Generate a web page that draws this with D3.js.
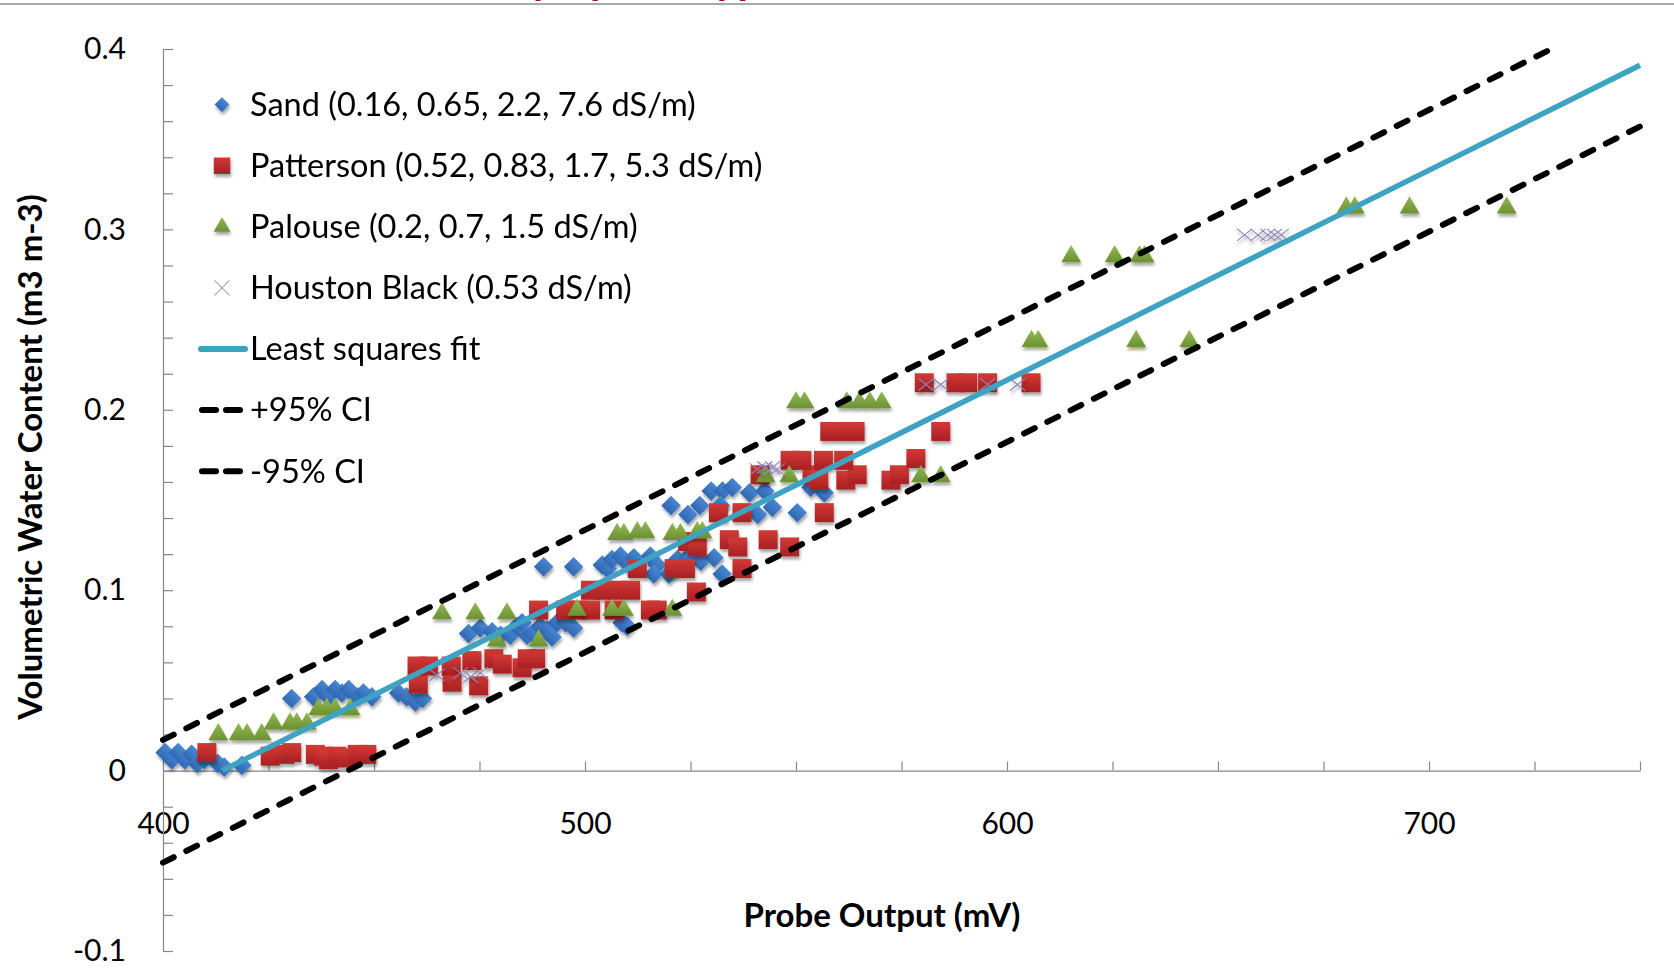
<!DOCTYPE html>
<html lang="en">
<head>
<meta charset="UTF-8" />
<title>Probe output vs volumetric water content</title>
<script src="https://cdn.jsdelivr.net/npm/d3@7"></script>
<style>
  body { margin: 0; background: #fff; overflow: hidden; }
  svg { display: block; font-family: Lato, "Open Sans", sans-serif; }
  .axis path, .axis line { stroke: #868686; stroke-width: 1.2px; }
  .axis text { font-size: 30px; fill: #000; font-family: Lato, "Open Sans", sans-serif; }
  .legend text { font-size: 32.5px; fill: #000; }
  .title { font-size: 33px; font-weight: bold; fill: #000; }
</style>
</head>
<body>
<script>
// ---- data: [probe output mV, VWC m3/m3] ----
const sand = [
  [400.5, 0.010], [402.1, 0.006], [403.6, 0.010], [405.2, 0.006], [406.8, 0.009],
  [408.1, 0.004], [409.8, 0.006], [413, 0.004], [414.5, 0.002], [418.7, 0.003],
  [430.5, 0.040],
  [435.7, 0.041], [437.7, 0.045], [439.2, 0.041], [440.8, 0.045], [442.4, 0.043],
  [444, 0.045], [446, 0.041], [447.5, 0.043], [449.5, 0.041],
  [455.8, 0.043], [457.7, 0.041], [459.8, 0.038], [461.5, 0.040],
  [472.4, 0.076], [475.2, 0.079], [478, 0.077], [480, 0.075], [482.3, 0.075],
  [483.9, 0.080], [485.1, 0.082], [486.3, 0.075], [487.5, 0.076], [489.4, 0.080],
  [491, 0.078], [492.2, 0.074], [493.4, 0.082], [495.4, 0.082], [497.3, 0.079],
  [508.8, 0.082], [510, 0.080],
  [490.2, 0.113], [497.3, 0.113], [504.1, 0.114], [505.3, 0.112], [506.4, 0.117],
  [508.4, 0.119], [510, 0.115], [511.6, 0.118], [515.5, 0.119], [517.1, 0.114],
  [516.3, 0.109], [519.9, 0.109], [521.9, 0.117], [524.3, 0.118], [527.4, 0.116],
  [530.6, 0.118], [532.5, 0.109],
  [520.4, 0.147], [524.4, 0.142], [527.2, 0.147], [529.9, 0.155], [532.6, 0.155],
  [534.9, 0.157], [539, 0.154], [542.6, 0.155], [544.4, 0.146], [550.3, 0.143],
  [553.5, 0.157], [556.7, 0.154], [532.1, 0.147], [540.9, 0.142]
];

const patterson = [
  [410.4, 0.010], [425.4, 0.008], [428.9, 0.009], [430.5, 0.010], [436.1, 0.009],
  [438, 0.008], [439.2, 0.006], [441.2, 0.008], [443.2, 0.007], [446, 0.009], [448.3, 0.009],
  [460.5, 0.048], [468.5, 0.049], [474.8, 0.047],
  [460.2, 0.058], [462.9, 0.058], [468.3, 0.058], [473.2, 0.061], [478.4, 0.062],
  [480.4, 0.059], [485.1, 0.057], [486.3, 0.062], [488.3, 0.062],
  [489, 0.089], [495.4, 0.089], [498.1, 0.089], [501.3, 0.089], [506.9, 0.089],
  [515.5, 0.089], [517.1, 0.089],
  [501.3, 0.100], [504.5, 0.100], [507.6, 0.100], [510.8, 0.100], [526.4, 0.099],
  [512.4, 0.112], [521.1, 0.112], [523.8, 0.112], [537.2, 0.112],
  [524.3, 0.127], [526.6, 0.124], [534.2, 0.128], [536.2, 0.124], [543.4, 0.128], [548.5, 0.124],
  [531.6, 0.143], [537.2, 0.143], [556.7, 0.143],
  [541.5, 0.164], [553.8, 0.164], [555.4, 0.161], [561.8, 0.161], [564.5, 0.164],
  [572.5, 0.161], [574.5, 0.164],
  [548.6, 0.172], [551.4, 0.172], [556.5, 0.172], [561.3, 0.172], [578.4, 0.173],
  [558, 0.188], [560.8, 0.188], [564, 0.188], [584.3, 0.188],
  [580.4, 0.215], [587.9, 0.215], [590.7, 0.215], [595.4, 0.215], [605.7, 0.215]
];

const palouse = [
  [413.1, 0.020], [417.9, 0.020], [419.9, 0.020], [423.4, 0.020],
  [426.2, 0.026], [430.1, 0.026], [431.7, 0.026], [434.1, 0.026],
  [436.8, 0.034], [438.8, 0.034], [440.8, 0.034], [444.4, 0.034],
  [466.1, 0.087], [474, 0.087], [481.5, 0.087], [479.1, 0.072], [489, 0.072],
  [498.1, 0.089], [506.4, 0.089], [509.2, 0.089], [520.7, 0.089],
  [507.6, 0.131], [509.2, 0.131], [512.4, 0.132], [514.3, 0.132],
  [520.7, 0.131], [522.6, 0.131], [526.6, 0.132], [527.8, 0.132],
  [542.8, 0.163], [548.4, 0.163], [579.6, 0.163], [584.3, 0.163],
  [550, 0.204], [552, 0.204], [562, 0.204], [565, 0.204], [567.5, 0.204], [570.3, 0.204],
  [605.8, 0.238], [607.4, 0.238], [630.6, 0.238], [643.2, 0.238],
  [615.2, 0.285], [625.5, 0.285], [631.4, 0.285], [632.6, 0.285],
  [680.4, 0.312], [682.4, 0.312], [695.4, 0.312], [718.4, 0.312]
];

const houstonBlack = [
  [464.9, 0.053], [470.5, 0.054], [472.9, 0.052], [475.2, 0.054],
  [540.8, 0.167], [542.6, 0.168], [544.4, 0.168], [545.6, 0.167],
  [580.8, 0.214], [584.3, 0.214], [595.4, 0.214], [602.5, 0.214],
  [656.3, 0.297], [659.5, 0.297], [661.8, 0.297], [663.4, 0.297], [665, 0.297]
];

const leastSquares = [[414, 0.0], [750, 0.391]];
const upperCI = [[400, 0.017], [729, 0.4]];
const lowerCI = [[400, -0.051], [750, 0.357]];

const xTickLabels = [400, 500, 600, 700];
const yTickLabels = [-0.1, 0, 0.1, 0.2, 0.3, 0.4];
const legendLabels = [
  "Sand (0.16, 0.65, 2.2, 7.6 dS/m)",
  "Patterson (0.52, 0.83, 1.7, 5.3 dS/m)",
  "Palouse (0.2, 0.7, 1.5 dS/m)",
  "Houston Black (0.53 dS/m)",
  "Least squares fit",
  "+95% CI",
  "-95% CI"
];

// ---- setup ----
const width = 1674, height = 968;
const svg = d3.select("body").append("svg")
  .attr("width", width).attr("height", height);

svg.append("rect").attr("width", width).attr("height", height).attr("fill", "#fff");

const defs = svg.append("defs");
const shadow = defs.append("filter").attr("id", "shadow")
  .attr("x", "-50%").attr("y", "-50%").attr("width", "200%").attr("height", "200%");
shadow.append("feDropShadow")
  .attr("dx", 1).attr("dy", 3).attr("stdDeviation", 1.8)
  .attr("flood-color", "#000").attr("flood-opacity", 0.35);

function grad(id, top, bottom) {
  const g = defs.append("linearGradient").attr("id", id)
    .attr("x1", 0).attr("y1", 0).attr("x2", 0).attr("y2", 1);
  g.append("stop").attr("offset", "0%").attr("stop-color", top);
  g.append("stop").attr("offset", "100%").attr("stop-color", bottom);
}
grad("gSand", "#4a86d0", "#2f68b4");
grad("gPat", "#d23a36", "#a91f22");
grad("gPal", "#92b953", "#6b9131");

// slide title, mostly cut off by the top edge like in the source picture
svg.append("text")
  .attr("x", 520).attr("y", -6)
  .attr("text-anchor", "middle")
  .attr("font-size", 44).attr("font-weight", "bold")
  .attr("fill", "#a0103c")
  .text("Probe accuracy by soil type");
svg.append("line")
  .attr("x1", 0).attr("x2", width).attr("y1", 4).attr("y2", 4)
  .attr("stroke", "#8c8c8c").attr("stroke-width", 1.5);

const x = d3.scaleLinear().domain([400, 750]).range([163, 1640]);
const y = d3.scaleLinear().domain([-0.1, 0.4]).range([951, 49]);

// ---- axes ----
svg.append("g").attr("class", "axis")
  .attr("transform", `translate(0,${y(0)})`)
  .call(d3.axisBottom(x).tickValues(d3.range(400, 751, 25))
    .tickSizeInner(-9).tickSizeOuter(0).tickFormat(""));

svg.append("g").attr("class", "axis")
  .attr("transform", `translate(0,${y(0)})`)
  .call(d3.axisBottom(x).tickValues(xTickLabels).tickSize(0).tickPadding(42)
    .tickFormat(d => String(d)))
  .call(g => g.select(".domain").remove());

svg.append("g").attr("class", "axis")
  .attr("transform", `translate(${x(400)},0)`)
  .call(d3.axisLeft(y).tickValues(d3.range(-5, 21).map(i => i * 0.02))
    .tickSizeInner(-10).tickSizeOuter(0).tickFormat(""));

svg.append("g").attr("class", "axis")
  .attr("transform", `translate(${x(400)},0)`)
  .call(d3.axisLeft(y).tickValues(yTickLabels).tickSize(0).tickPadding(37)
    .tickFormat(d => String(d)))
  .call(g => g.select(".domain").remove());

// axis titles
svg.append("text").attr("class", "title")
  .attr("x", 882).attr("y", 915).attr("dy", "0.35em")
  .attr("text-anchor", "middle")
  .text("Probe Output (mV)");

svg.append("text").attr("class", "title")
  .attr("transform", "translate(30,457) rotate(-90)")
  .attr("dy", "0.35em")
  .attr("text-anchor", "middle")
  .text("Volumetric Water Content (m3 m-3)");

// ---- markers ----
const diamond = d3.symbol().type(d3.symbolSquare).size(190)();
const square = d3.symbol().type(d3.symbolSquare).size(360)();
const triangle = d3.symbol().type(d3.symbolTriangle).size(170)();
const cross = "M-7.5,-6L7.5,6M-7.5,6L7.5,-6";

function plotSeries(data, path, fill, stroke, rot) {
  const g = svg.append("g").attr("filter", "url(#shadow)");
  g.selectAll("path").data(data).join("path")
    .attr("d", path)
    .attr("transform", d => `translate(${x(d[0])},${y(d[1])})${rot ? " rotate(45)" : ""}`)
    .attr("fill", fill)
    .attr("stroke", stroke)
    .attr("stroke-width", stroke === "none" ? 0 : 1.1);
}

plotSeries(sand, diamond, "url(#gSand)", "none", true);
plotSeries(patterson, square, "url(#gPat)", "none", false);
plotSeries(palouse, triangle, "url(#gPal)", "none", false);
plotSeries(houstonBlack, cross, "none", "#8f82b6", false);

// ---- lines ----
const line = d3.line().x(d => x(d[0])).y(d => y(d[1]));

svg.append("path").datum(leastSquares)
  .attr("d", line).attr("fill", "none")
  .attr("stroke", "#3ea3c2").attr("stroke-width", 5.5);

[upperCI, lowerCI].forEach(ci => {
  svg.append("path").datum(ci)
    .attr("d", line).attr("fill", "none")
    .attr("stroke", "#000").attr("stroke-width", 6)
    .attr("stroke-linecap", "round")
    .attr("stroke-dasharray", "12,14");
});

// ---- legend ----
const legend = svg.append("g").attr("class", "legend");
const rowY = i => 104.6 + i * 61.1;

legendLabels.forEach((label, i) => {
  legend.append("text")
    .attr("x", 250).attr("y", rowY(i)).attr("dy", "0.35em")
    .text(label);
});

const lm = legend.append("g").attr("filter", "url(#shadow)");
lm.append("path").attr("d", d3.symbol().type(d3.symbolSquare).size(110)())
  .attr("transform", `translate(222,${rowY(0)}) rotate(45)`).attr("fill", "url(#gSand)");
lm.append("path").attr("d", d3.symbol().type(d3.symbolSquare).size(270)())
  .attr("transform", `translate(222,${rowY(1)})`).attr("fill", "url(#gPat)");
lm.append("path").attr("d", d3.symbol().type(d3.symbolTriangle).size(125)())
  .attr("transform", `translate(222,${rowY(2)})`).attr("fill", "url(#gPal)");
legend.append("path").attr("d", "M-7.5,-7.5L7.5,7.5M-7.5,7.5L7.5,-7.5")
  .attr("transform", `translate(222,${rowY(3)})`)
  .attr("fill", "none").attr("stroke", "#a8a8a8").attr("stroke-width", 1.2);

legend.append("line")
  .attr("x1", 201).attr("x2", 245).attr("y1", rowY(4)).attr("y2", rowY(4))
  .attr("stroke", "#3ea3c2").attr("stroke-width", 6).attr("stroke-linecap", "round");
[5, 6].forEach(i => {
  legend.append("line")
    .attr("x1", 202).attr("x2", 244).attr("y1", rowY(i)).attr("y2", rowY(i))
    .attr("stroke", "#000").attr("stroke-width", 6)
    .attr("stroke-linecap", "round").attr("stroke-dasharray", "14,10");
});
</script>
</body>
</html>
